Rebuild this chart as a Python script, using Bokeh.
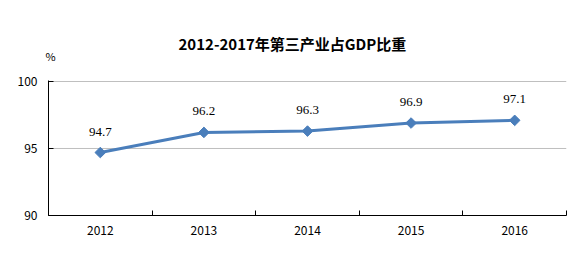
import math
from bokeh.plotting import figure
from bokeh.models import Range1d, FixedTicker, LabelSet, ColumnDataSource, Title, Span
from bokeh.embed import file_html
from bokeh.resources import INLINE

years = [2012, 2013, 2014, 2015, 2016]
share = [94.7, 96.2, 96.3, 96.9, 97.1]
share_labels = ["94.7", "96.2", "96.3", "96.9", "97.1"]
y_ticks = [90, 95, 100]
title_text = "2012-2017年第三产业占GDP比重"
unit_text = "%"

FONT = "Noto Sans CJK SC"
LINE_COLOR = "#4A7EBB"

p = figure(width=587, height=259, output_backend="svg", toolbar_location=None,
           title=None,
           x_range=Range1d(years[0] - 0.5, years[-1] + 0.5),
           y_range=Range1d(y_ticks[0], y_ticks[-1] + 0.0746))
p.min_border_left = 48
p.min_border_right = 21
p.min_border_top = 80
p.min_border_bottom = 44
p.outline_line_color = None
p.background_fill_color = "white"
p.border_fill_color = "white"

# horizontal grid lines
p.ygrid.grid_line_color = None
for yt in y_ticks[1:]:
    p.add_layout(Span(location=yt, dimension="width", line_color="#BFBFBF",
                      line_width=1, level="underlay"))

src = ColumnDataSource(dict(x=years, y=share, t=share_labels))

p.line("x", "y", source=src, line_color=LINE_COLOR, line_width=3)
p.scatter("x", "y", source=src, marker="square", size=7.5, angle=math.pi / 4,
          fill_color=LINE_COLOR, line_color=LINE_COLOR, line_width=1)

labels = LabelSet(x="x", y="y", text="t", source=src, y_offset=21,
                  text_align="center", text_baseline="middle",
                  text_font=FONT, text_font_size="13px", text_color="#000000")
p.add_layout(labels)

# x axis
boundaries = [y - 0.5 for y in years] + [years[-1] + 0.5]
p.xaxis.ticker = FixedTicker(ticks=years, minor_ticks=boundaries)
p.xaxis.major_tick_in = 0
p.xaxis.major_tick_out = 0
p.xaxis.minor_tick_in = 5
p.xaxis.minor_tick_out = 0
p.xaxis.minor_tick_line_color = "black"
p.xaxis.axis_line_color = "black"
p.xaxis.major_label_text_font = FONT
p.xaxis.major_label_text_font_size = "12px"
p.xaxis.major_label_text_color = "black"
p.xaxis.major_label_standoff = 10
p.xgrid.grid_line_color = None

# y axis
p.yaxis.ticker = FixedTicker(ticks=y_ticks)
p.yaxis.major_tick_in = 5
p.yaxis.major_tick_out = 0
p.yaxis.major_tick_line_color = "black"
p.yaxis.minor_tick_line_color = None
p.yaxis.axis_line_color = "black"
p.yaxis.major_label_text_font = FONT
p.yaxis.major_label_text_font_size = "12px"
p.yaxis.major_label_text_color = "black"
p.yaxis.major_label_standoff = 11

unit = Title(text=unit_text, align="left", offset=-3, standoff=34,
             text_font=FONT, text_font_size="11px", text_font_style="normal",
             text_color="black")
p.add_layout(unit, "above")
title = Title(text=title_text, align="left", offset=130, standoff=-50,
              text_font=FONT, text_font_size="15px", text_font_style="bold",
              text_color="black")
p.add_layout(title, "above")

open("out.html", "w").write(file_html(p, INLINE))
